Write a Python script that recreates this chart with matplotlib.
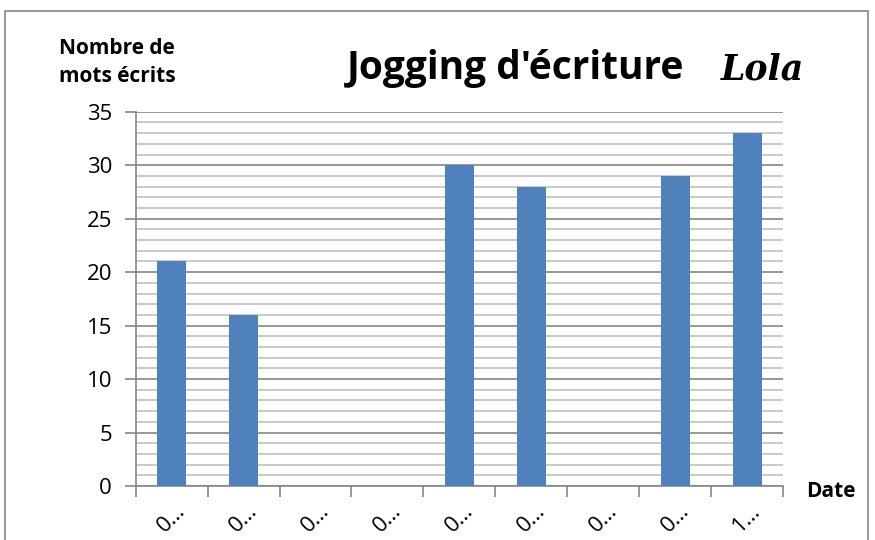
import numpy as np
import matplotlib.pyplot as plt
from matplotlib.patches import Rectangle

dates = ['0…', '0…', '0…', '0…', '0…', '0…', '0…', '0…', '1…']
mots = [21, 16, 0, 0, 30, 28, 0, 29, 33]

plt.rcParams['font.family'] = ['Open Sans', 'DejaVu Sans']

fig = plt.figure(figsize=(8.75, 5.4), dpi=100)
ax = fig.add_axes([0.155, 0.1, 0.74, 0.693])

x = np.arange(len(dates))
ax.bar(x, mots, width=0.4, color='#4f81bd', zorder=3)

ax.set_xlim(-0.5, len(dates) - 0.5)
ax.set_ylim(0, 35)
ax.set_yticks(range(0, 36, 5))
ax.set_yticks(range(0, 36, 1), minor=True)
ax.tick_params(axis='y', which='major', labelsize=16, length=8, color='#868686',
               width=1.2, pad=9)
ax.tick_params(axis='y', which='minor', length=0)
ax.grid(axis='y', which='major', color='#868686', linewidth=1.2, zorder=0)
ax.grid(axis='y', which='minor', color='#c0c0c0', linewidth=1.2, zorder=0)

ax.set_xticks(np.arange(-0.5, len(dates), 1))
ax.set_xticklabels([])
ax.set_xticks(x, minor=True)
ax.set_xticklabels(dates, minor=True, rotation=45, fontsize=16, ha='center', va='top')
ax.tick_params(axis='x', which='major', length=8, color='#868686', width=1.2)
ax.tick_params(axis='x', which='minor', length=0, pad=10)

for s in ['top', 'right']:
    ax.spines[s].set_visible(False)
for s in ['left', 'bottom']:
    ax.spines[s].set_color('#868686')
    ax.spines[s].set_linewidth(1.2)

fig.text(0.134, 0.885, 'Nombre de\nmots écrits', fontsize=15, fontweight='bold',
         ha='center', va='center', linespacing=1.45)
fig.text(0.589, 0.874, "Jogging d'écriture", fontsize=28, fontweight='bold',
         ha='center', va='center')
fig.text(0.871, 0.872, 'Lola', fontsize=25, fontstyle='italic', fontweight='bold',
         family='DejaVu Serif', ha='center', va='center')
fig.text(0.949, 0.089, 'Date', fontsize=15, fontweight='bold', ha='center', va='center')

fig.patches.append(Rectangle((0.006, -0.05), 0.986, 1.03, transform=fig.transFigure,
                             fill=False, edgecolor='#868686', linewidth=1.2))

fig.savefig('out.png', dpi=100)
